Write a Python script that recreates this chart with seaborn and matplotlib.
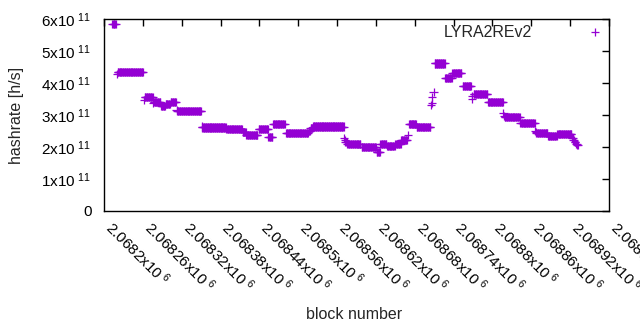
import numpy as np
import pandas as pd
import matplotlib
matplotlib.use("Agg")
import matplotlib.pyplot as plt
import seaborn as sns

# ---- data (runs of blocks with a constant estimated hashrate, in 1e11 h/s) ----
seg_start = [2068213, 2068220, 2068221, 2068262, 2068263, 2068276, 2068277, 2068288,
             2068295, 2068303, 2068312, 2068313, 2068351, 2068352, 2068389, 2068414,
             2068420, 2068439, 2068454, 2068461, 2068481, 2068516, 2068519, 2068523,
             2068571, 2068572, 2068573, 2068576, 2068598, 2068621, 2068627, 2068637,
             2068650, 2068659, 2068669, 2068671, 2068683, 2068705, 2068706, 2068707,
             2068709, 2068711, 2068727, 2068738, 2068754, 2068768, 2068769, 2068771,
             2068793, 2068817, 2068818, 2068819, 2068843, 2068866, 2068867, 2068868,
             2068886, 2068900, 2068923, 2068925, 2068927, 2068929, 2068931]
seg_end = [2068218, 2068220, 2068260, 2068262, 2068275, 2068276, 2068287, 2068294,
           2068302, 2068311, 2068312, 2068350, 2068351, 2068388, 2068413, 2068419,
           2068437, 2068453, 2068460, 2068479, 2068515, 2068518, 2068522, 2068570,
           2068571, 2068572, 2068575, 2068596, 2068620, 2068626, 2068636, 2068649,
           2068658, 2068668, 2068669, 2068682, 2068704, 2068705, 2068706, 2068707,
           2068709, 2068726, 2068737, 2068752, 2068767, 2068768, 2068769, 2068792,
           2068816, 2068817, 2068818, 2068842, 2068865, 2068866, 2068867, 2068885,
           2068899, 2068922, 2068924, 2068926, 2068928, 2068930, 2068932]
seg_hashrate = [5.83, 4.27, 4.35, 3.47, 3.55, 3.37, 3.40, 3.28,
                3.33, 3.40, 3.15, 3.12, 2.64, 2.61, 2.55, 2.46,
                2.37, 2.55, 2.30, 2.72, 2.43, 2.50, 2.58, 2.64,
                2.27, 2.22, 2.15, 2.09, 2.00, 1.83, 2.09, 2.02,
                2.08, 2.22, 2.38, 2.72, 2.62, 3.32, 3.38, 3.56,
                3.72, 4.61, 4.15, 4.32, 3.90, 3.49, 3.60, 3.65,
                3.42, 3.05, 2.98, 2.93, 2.74, 2.50, 2.46, 2.43,
                2.33, 2.40, 2.27, 2.22, 2.16, 2.10, 2.05]

x_ticks = [2068200 + 60 * i for i in range(14)]
x_tick_labels = ["2.0682", "2.06826", "2.06832", "2.06838", "2.06844", "2.0685",
                 "2.06856", "2.06862", "2.06868", "2.06874", "2.0688", "2.06886",
                 "2.06892", "2.06898"]
y_ticks = [0, 1e11, 2e11, 3e11, 4e11, 5e11, 6e11]
y_tick_labels = ["0", "1", "2", "3", "4", "5", "6"]
series_name = "LYRA2REv2"

blocks, rates = [], []
for s, e, v in zip(seg_start, seg_end, seg_hashrate):
    for b in range(s, e + 1):
        blocks.append(b)
        rates.append(v * 1e11)
df = pd.DataFrame({"block": blocks, "hashrate": rates, "series": series_name})

# ---- style ----
sns.set_theme(style="white")
plt.rcParams["font.family"] = ["Liberation Sans", "DejaVu Sans"]
plt.rcParams["mathtext.fontset"] = "custom"
plt.rcParams["mathtext.rm"] = "Liberation Sans"
plt.rcParams["mathtext.default"] = "regular"

FS = 11
FL = 11.5
fig = plt.figure(figsize=(6.4, 3.3), dpi=100)
ax = fig.add_axes([104 / 640, 1 - 211 / 330, 505 / 640, 192 / 330])

sns.scatterplot(data=df, x="block", y="hashrate", hue="series",
                palette=["#9400d3"], marker="+", s=34, linewidth=0.9, ax=ax)

ax.set_xlim(2068200, 2068980)
ax.set_ylim(0, 6e11)

ax.set_xticks(x_ticks)
ax.set_xticklabels([f"{t}x10$^{{\\ 6}}$" for t in x_tick_labels],
                   rotation=-45, ha="left", va="baseline", rotation_mode="anchor",
                   fontsize=FS)
ax.set_yticks(y_ticks)
ax.set_yticklabels([t if t == "0" else f"{t}x10$^{{\\ 11}}$" for t in y_tick_labels],
                   fontsize=FS)

ax.tick_params(axis="both", which="major", direction="in", length=5, width=1,
               top=True, right=True, colors="black")
ax.tick_params(axis="y", pad=9)
ax.tick_params(axis="x", pad=13)
for sp in ax.spines.values():
    sp.set_visible(True)
    sp.set_color("black")
    sp.set_linewidth(1)

ax.set_xlabel("block number", fontsize=FL)
ax.set_ylabel("hashrate [h/s]", fontsize=FL)
ax.xaxis.set_label_coords((354 - 104) / 505, (211 - 307) / 192)
ax.yaxis.set_label_coords((24 - 104) / 505, 0.5)
ax.grid(False)

leg = ax.legend(loc="upper right", frameon=False, markerfirst=False,
                fontsize=FL, handletextpad=3.4, borderaxespad=0.0,
                borderpad=0.4, handlelength=1.0, markerscale=1.0)
for h in leg.legend_handles:
    h.set_color("#9400d3")

fig.savefig("out.png", dpi=100)
